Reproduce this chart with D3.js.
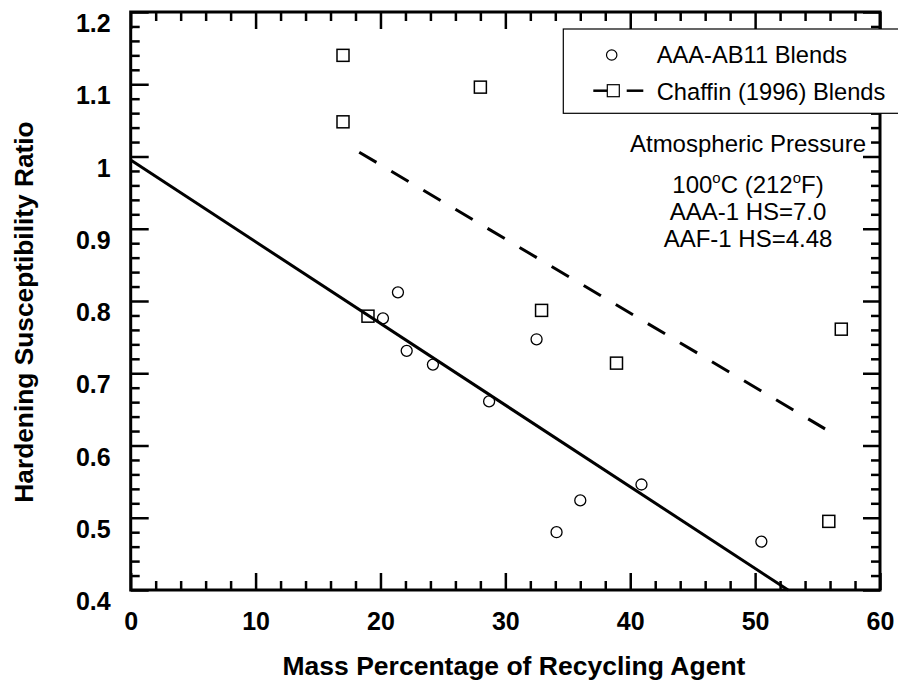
<!DOCTYPE html>
<html>
<head>
<meta charset="utf-8">
<script src="https://cdn.jsdelivr.net/npm/d3@7"></script>
<style>
  html, body { margin: 0; padding: 0; background: #fff; }
  svg { display: block; font-family: "Liberation Sans", Arial, Helvetica, sans-serif; }
</style>
</head>
<body>
<svg id="chart" width="898" height="683"></svg>
<script>
// ---- data ----
const aaaX = [20.2, 21.4, 22.1, 24.2, 28.7, 32.5, 34.1, 36.0, 40.9, 50.5];
const aaaY = [0.776, 0.812, 0.731, 0.712, 0.661, 0.747, 0.480, 0.524, 0.546, 0.467];
const chaffinX = [17.0, 17.0, 28.0, 19.0, 32.9, 38.9, 56.9, 55.9];
const chaffinY = [1.14, 1.048, 1.096, 0.779, 0.787, 0.714, 0.761, 0.495];
const aaaFitX = [0, 52.64];
const aaaFitY = [0.995, 0.4];
const chaffinFitX = [18.3, 55.6];
const chaffinFitY = [1.006, 0.623];
const xTicks = [0, 10, 20, 30, 40, 50, 60];
const xTickLabels = ["0", "10", "20", "30", "40", "50", "60"];
const yTicks = [0.4, 0.5, 0.6, 0.7, 0.8, 0.9, 1.0, 1.1, 1.2];
const yTickLabels = ["0.4", "0.5", "0.6", "0.7", "0.8", "0.9", "1", "1.1", "1.2"];
const xMinor = [2,4,6,8,12,14,16,18,22,24,26,28,32,34,36,38,42,44,46,48,52,54,56,58];
const yMinor = [0.42,0.44,0.46,0.48,0.52,0.54,0.56,0.58,0.62,0.64,0.66,0.68,0.72,0.74,0.76,0.78,
                0.82,0.84,0.86,0.88,0.92,0.94,0.96,0.98,1.02,1.04,1.06,1.08,1.12,1.14,1.16,1.18];
const legendLabels = ["AAA-AB11 Blends", "Chaffin (1996) Blends"];
const xTitle = "Mass Percentage of Recycling Agent";
const yTitle = "Hardening Susceptibility Ratio";

// ---- layout ----
const L = 130.7, R = 880, T = 12, B = 590;
const svg = d3.select("#chart");
const x = d3.scaleLinear().domain([0, 60]).range([L, R]);
const y = d3.scaleLinear().domain([0.4, 1.2]).range([B, T]);

function styleAxis(g) {
  g.select(".domain").remove();
  g.selectAll(".tick line").attr("stroke", "#000").attr("stroke-width", 2.5);
}

// minor ticks
svg.append("g").attr("transform", `translate(0,${B})`)
  .call(d3.axisBottom(x).tickValues(xMinor).tickSize(-9).tickFormat(""))
  .call(styleAxis);
svg.append("g").attr("transform", `translate(0,${T})`)
  .call(d3.axisTop(x).tickValues(xMinor).tickSize(-9).tickFormat(""))
  .call(styleAxis);
svg.append("g").attr("transform", `translate(${L},0)`)
  .call(d3.axisLeft(y).tickValues(yMinor).tickSize(-9).tickFormat(""))
  .call(styleAxis);
svg.append("g").attr("transform", `translate(${R},0)`)
  .call(d3.axisRight(y).tickValues(yMinor).tickSize(-9).tickFormat(""))
  .call(styleAxis);

// major ticks
const gx = svg.append("g").attr("transform", `translate(0,${B})`)
  .call(d3.axisBottom(x).tickValues(xTicks).tickSize(-17).tickPadding(40)
    .tickFormat((d, i) => xTickLabels[i]))
  .call(styleAxis);
gx.selectAll(".tick text").attr("y", 40).attr("dy", 0)
  .attr("font-size", 25).attr("font-weight", "bold").attr("fill", "#000")
  .attr("font-family", "Liberation Sans, Arial, sans-serif");

svg.append("g").attr("transform", `translate(0,${T})`)
  .call(d3.axisTop(x).tickValues(xTicks).tickSize(-17).tickFormat(""))
  .call(styleAxis);

const gy = svg.append("g").attr("transform", `translate(${L},0)`)
  .call(d3.axisLeft(y).tickValues(yTicks).tickSize(-18).tickPadding(21)
    .tickFormat((d, i) => yTickLabels[i]))
  .call(styleAxis);
gy.selectAll(".tick text").attr("x", -20).attr("y", 19.5).attr("dy", 0)
  .attr("font-size", 25).attr("font-weight", "bold").attr("fill", "#000")
  .attr("font-family", "Liberation Sans, Arial, sans-serif");

svg.append("g").attr("transform", `translate(${R},0)`)
  .call(d3.axisRight(y).tickValues(yTicks).tickSize(-17).tickFormat(""))
  .call(styleAxis);

// frame
svg.append("rect").attr("x", L).attr("y", T).attr("width", R - L).attr("height", B - T)
  .attr("fill", "none").attr("stroke", "#000").attr("stroke-width", 3);

// fit lines
const line = d3.line().x(d => x(d[0])).y(d => y(d[1]));
svg.append("path")
  .attr("d", line(aaaFitX.map((v, i) => [v, aaaFitY[i]])))
  .attr("fill", "none").attr("stroke", "#000").attr("stroke-width", 3);
svg.append("path")
  .attr("d", line(chaffinFitX.map((v, i) => [v, chaffinFitY[i]])))
  .attr("fill", "none").attr("stroke", "#000").attr("stroke-width", 3)
  .attr("stroke-dasharray", "20,17.3");

// markers
svg.append("g").selectAll("circle").data(aaaX.map((v, i) => [v, aaaY[i]])).join("circle")
  .attr("cx", d => x(d[0])).attr("cy", d => y(d[1])).attr("r", 5.5)
  .attr("fill", "none").attr("stroke", "#000").attr("stroke-width", 1.3);
const sq = 12;
svg.append("g").selectAll("rect").data(chaffinX.map((v, i) => [v, chaffinY[i]])).join("rect")
  .attr("x", d => x(d[0]) - sq / 2).attr("y", d => y(d[1]) - sq / 2)
  .attr("width", sq).attr("height", sq)
  .attr("fill", "none").attr("stroke", "#000").attr("stroke-width", 1.5);

// legend
const lg = svg.append("g");
lg.append("rect").attr("x", 563.3).attr("y", 29).attr("width", 340).attr("height", 84.3)
  .attr("fill", "#fff").attr("stroke", "#000").attr("stroke-width", 1.2);
lg.append("circle").attr("cx", 611.7).attr("cy", 55).attr("r", 5.2)
  .attr("fill", "none").attr("stroke", "#000").attr("stroke-width", 1.2);
lg.append("line").attr("x1", 593.3).attr("x2", 607.3).attr("y1", 90.7).attr("y2", 90.7)
  .attr("stroke", "#000").attr("stroke-width", 2.5);
lg.append("line").attr("x1", 626.7).attr("x2", 643.3).attr("y1", 90.7).attr("y2", 90.7)
  .attr("stroke", "#000").attr("stroke-width", 2.5);
lg.append("rect").attr("x", 607.3).attr("y", 84.7).attr("width", 12).attr("height", 12)
  .attr("fill", "#fff").attr("stroke", "#000").attr("stroke-width", 1.2);
lg.selectAll("text.leg").data(legendLabels).join("text").attr("class", "leg")
  .attr("x", 656.7).attr("y", (d, i) => [63.3, 100][i])
  .attr("font-size", 23.7).attr("fill", "#000").text(d => d);

// annotation
const ann = svg.append("g").attr("font-size", 24).attr("text-anchor", "middle").attr("fill", "#000");
ann.append("text").attr("x", 748).attr("y", 151.7).text("Atmospheric Pressure");
const t2 = ann.append("text").attr("x", 748).attr("y", 193.3);
t2.append("tspan").text("100");
t2.append("tspan").attr("font-size", 15).attr("dy", -10).text("o");
t2.append("tspan").attr("dy", 10).text("C (212");
t2.append("tspan").attr("font-size", 15).attr("dy", -10).text("o");
t2.append("tspan").attr("dy", 10).text("F)");
ann.append("text").attr("x", 748).attr("y", 220).text("AAA-1 HS=7.0");
ann.append("text").attr("x", 748).attr("y", 246.7).text("AAF-1 HS=4.48");

// axis titles
svg.append("text").attr("x", 514).attr("y", 675).attr("text-anchor", "middle")
  .attr("font-size", 26.5).attr("font-weight", "bold").attr("fill", "#000").text(xTitle);
svg.append("text").attr("transform", "translate(33,312) rotate(-90)").attr("text-anchor", "middle")
  .attr("font-size", 26.3).attr("font-weight", "bold").attr("fill", "#000").text(yTitle);
</script>
</body>
</html>
